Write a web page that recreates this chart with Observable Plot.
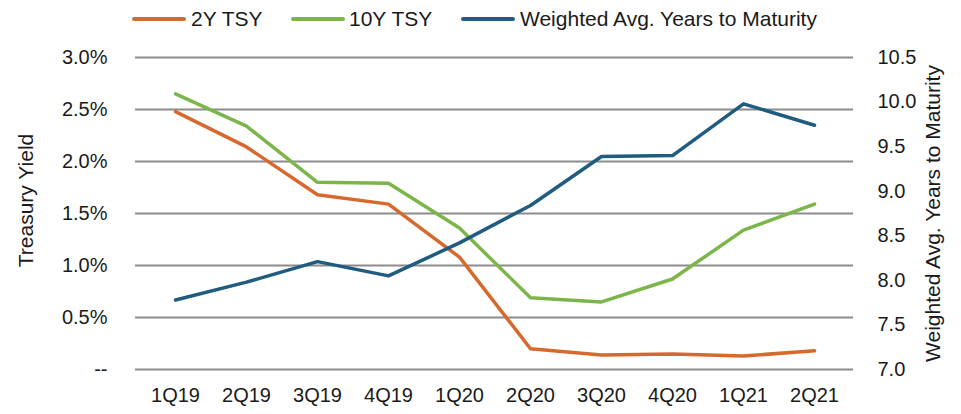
<!DOCTYPE html>
<html>
<head>
<meta charset="utf-8">
<script src="https://cdn.jsdelivr.net/npm/d3@7"></script>
<script src="https://cdn.jsdelivr.net/npm/@observablehq/plot@0.6"></script>
<style>
  body { margin: 0; background: #fff; font-family: "Liberation Sans", Arial, sans-serif; }
  #wrap { position: relative; width: 961px; height: 414px; overflow: hidden; }
  #legend { position: relative; width: 961px; height: 38px; }
  .sw { position: absolute; top: 17px; width: 54px; height: 4px; border-radius: 2px; }
  .lt { position: absolute; top: 6px; font-size: 21px; line-height: 26px; color: #1a1a1a; white-space: nowrap; }
</style>
</head>
<body>
<div id="wrap">
  <div id="legend"></div>
  <div id="chart"></div>
</div>
<script>
const quarters = ["1Q19","2Q19","3Q19","4Q19","1Q20","2Q20","3Q20","4Q20","1Q21","2Q21"];
const twoY  = [2.48, 2.14, 1.68, 1.59, 1.08, 0.20, 0.14, 0.15, 0.13, 0.18];
const tenY  = [2.65, 2.34, 1.80, 1.79, 1.36, 0.69, 0.65, 0.87, 1.34, 1.59];
const wam   = [7.78, 7.98, 8.21, 8.05, 8.42, 8.84, 9.39, 9.40, 9.98, 9.74];
const leftTicks  = [0, 0.5, 1.0, 1.5, 2.0, 2.5, 3.0];
const rightTicks = [7.0, 7.5, 8.0, 8.5, 9.0, 9.5, 10.0, 10.5];
const seriesNames = ["2Y TSY", "10Y TSY", "Weighted Avg. Years to Maturity"];
const colors = ["#D66A2E", "#7CB64A", "#1F5C80"];

// map right-axis values onto left scale domain [0,3]
const rMin = 7.0, rMax = 10.5, lMax = 3.0;
const toLeft = v => (v - rMin) / (rMax - rMin) * lMax;

const rows = [];
quarters.forEach((q, i) => {
  rows.push({q, s: seriesNames[0], v: twoY[i]});
  rows.push({q, s: seriesNames[1], v: tenY[i]});
  rows.push({q, s: seriesNames[2], v: toLeft(wam[i])});
});

// legend
const legendPos = [[132, 191], [291, 349], [461, 520]];
const leg = document.getElementById("legend");
seriesNames.forEach((n, i) => {
  const sw = document.createElement("div");
  sw.className = "sw"; sw.style.left = legendPos[i][0] + "px"; sw.style.background = colors[i];
  const t = document.createElement("div");
  t.className = "lt"; t.style.left = legendPos[i][1] + "px"; t.textContent = n;
  leg.appendChild(sw); leg.appendChild(t);
});

const chart = Plot.plot({
  width: 961,
  height: 376,
  marginTop: 19,
  marginBottom: 45,
  marginLeft: 135,
  marginRight: 108,
  style: { fontFamily: "Liberation Sans, Arial, sans-serif", fontSize: "20px", color: "#1a1a1a", background: "#fff" },
  x: { type: "point", domain: quarters, padding: 0.5 },
  y: { domain: [0, 3] },
  color: { domain: seriesNames, range: colors },
  marks: [
    Plot.gridY(leftTicks, { stroke: "#8C8C8C", strokeOpacity: 1, strokeWidth: 2 }),
    Plot.axisY(leftTicks, { anchor: "left", tickSize: 0, tickPadding: 28, label: null,
      tickFormat: d => d === 0 ? "--" : d.toFixed(1) + "%" }),
    Plot.axisY(rightTicks.map(toLeft), { anchor: "right", tickSize: 0, tickPadding: 24, label: null,
      tickFormat: (d, i) => rightTicks[i].toFixed(1) }),
    Plot.axisX({ tickSize: 0, tickPadding: 18, label: null }),
    Plot.text(["Treasury Yield"], { frameAnchor: "left", dx: -109, dy: -13, rotate: -90, textAnchor: "middle", lineAnchor: "middle", fontSize: 21, fill: "#1a1a1a" }),
    Plot.text(["Weighted Avg. Years to Maturity"], { frameAnchor: "right", dx: 80, dy: 0, rotate: -90, textAnchor: "middle", lineAnchor: "middle", fontSize: 21, fill: "#1a1a1a" }),
    Plot.line(rows, { x: "q", y: "v", z: "s", stroke: "s", strokeWidth: 3.5, strokeLinecap: "round", strokeLinejoin: "round" })
  ]
});
document.getElementById("chart").appendChild(chart);
</script>
</body>
</html>
